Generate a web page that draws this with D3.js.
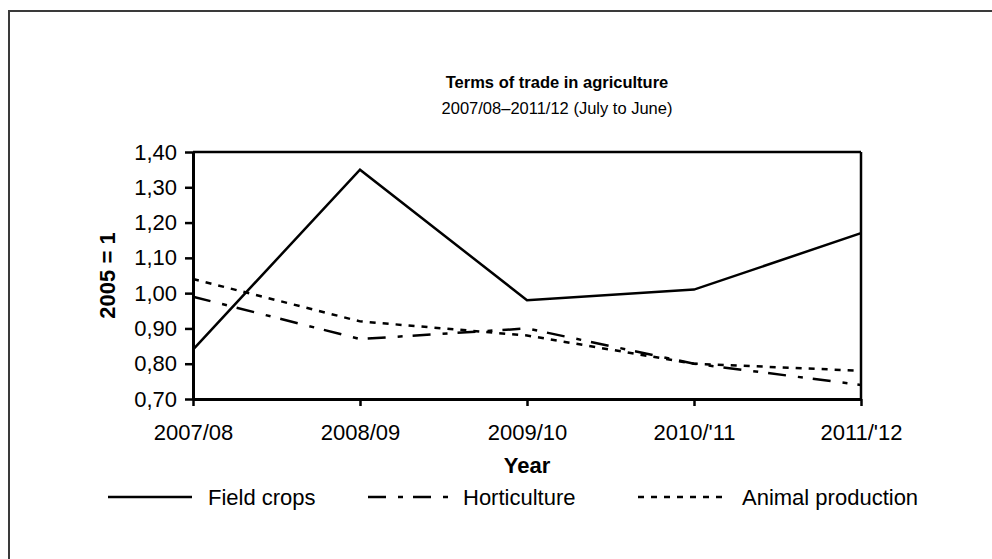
<!DOCTYPE html>
<html>
<head>
<meta charset="utf-8">
<script src="https://cdn.jsdelivr.net/npm/d3@7"></script>
<style>
  html, body { margin: 0; padding: 0; background: #fff; }
  svg { display: block; font-family: Arial, "Liberation Sans", sans-serif; }
</style>
</head>
<body>
<script>
const categories = ["2007/08", "2008/09", "2009/10", "2010/'11", "2011/'12"];
const fieldCrops = [0.84, 1.35, 0.98, 1.01, 1.17];
const horticulture = [0.99, 0.87, 0.90, 0.80, 0.74];
const animalProduction = [1.04, 0.92, 0.88, 0.80, 0.78];
const yTicks = [0.70, 0.80, 0.90, 1.00, 1.10, 1.20, 1.30, 1.40];
const seriesNames = ["Field crops", "Horticulture", "Animal production"];
const titleText = "Terms of trade in agriculture";
const subtitleText = "2007/08\u20132011/12 (July to June)";
const xTitle = "Year";
const yTitle = "2005 = 1";

(function () {
const W = 992, H = 559;
const pLeft = 193, pRight = 861, pTop = 152, pBottom = 399;

const svg = d3.select("body").append("svg").attr("width", W).attr("height", H);

// chart area frame (continues beyond the picture on right/bottom)
svg.append("rect").attr("x", 9).attr("y", 11).attr("width", 1200).attr("height", 800)
  .attr("fill", "none").attr("stroke", "#3a3a3a").attr("stroke-width", 2);

const x = d3.scalePoint().domain(categories).range([pLeft, pRight]);
const y = d3.scaleLinear().domain([0.70, 1.40]).range([pBottom, pTop]);

// titles
svg.append("text").attr("x", 557).attr("y", 88).attr("text-anchor", "middle")
  .attr("font-size", 16.5).attr("font-weight", "bold").text(titleText);
svg.append("text").attr("x", 557).attr("y", 114).attr("text-anchor", "middle")
  .attr("font-size", 16.5).text(subtitleText);

// plot border top/right
svg.append("line").attr("x1", pLeft).attr("x2", pRight).attr("y1", pTop).attr("y2", pTop)
  .attr("stroke", "#000").attr("stroke-width", 2.5);
svg.append("line").attr("x1", pRight).attr("x2", pRight).attr("y1", pTop).attr("y2", pBottom)
  .attr("stroke", "#000").attr("stroke-width", 2.5);

// axes
const yAxis = d3.axisLeft(y).tickValues(yTicks).tickSize(8).tickSizeOuter(0).tickPadding(8)
  .tickFormat(d => d.toFixed(2).replace(".", ","));
const gy = svg.append("g").attr("transform", `translate(${pLeft},0)`).call(yAxis);
gy.selectAll("text").attr("font-size", 22).attr("fill", "#000").attr("font-family", "Arial, 'Liberation Sans', sans-serif");
gy.selectAll("line").attr("stroke", "#000").attr("stroke-width", 2.5);
gy.select(".domain").attr("stroke", "#000").attr("stroke-width", 3);

const xAxis = d3.axisBottom(x).tickSize(7).tickSizeOuter(0).tickPadding(18);
const gx = svg.append("g").attr("transform", `translate(0,${pBottom})`).call(xAxis);
gx.selectAll("text").attr("font-size", 22).attr("fill", "#000").attr("font-family", "Arial, 'Liberation Sans', sans-serif");
gx.selectAll("line").attr("stroke", "#000").attr("stroke-width", 2.5);
gx.select(".domain").attr("stroke", "#000").attr("stroke-width", 3);

// axis titles
svg.append("text").attr("x", (pLeft + pRight) / 2).attr("y", 473).attr("text-anchor", "middle")
  .attr("font-size", 22).attr("font-weight", "bold").text(xTitle);
svg.append("text").attr("transform", `translate(115,${(pTop + pBottom) / 2}) rotate(-90)`)
  .attr("text-anchor", "middle").attr("font-size", 22).attr("font-weight", "bold").text(yTitle);

// lines
const styles = [
  { data: fieldCrops, dash: null },
  { data: horticulture, dash: "18,12,5,10" },
  { data: animalProduction, dash: "6,7" }
];
const line = d3.line().x((d, i) => x(categories[i])).y(d => y(d));
styles.forEach(s => {
  svg.append("path").datum(s.data).attr("d", line).attr("fill", "none")
    .attr("stroke", "#000").attr("stroke-width", 2.5)
    .attr("stroke-dasharray", s.dash);
});

// legend
const legendY = 497;
const legendItems = [
  { x1: 108, x2: 192, tx: 208 },
  { x1: 368, x2: 450, tx: 463 },
  { x1: 638, x2: 723, tx: 742 }
];
legendItems.forEach((it, i) => {
  svg.append("line").attr("x1", it.x1).attr("x2", it.x2).attr("y1", legendY).attr("y2", legendY)
    .attr("stroke", "#000").attr("stroke-width", 2.5).attr("stroke-dasharray", styles[i].dash);
  svg.append("text").attr("x", it.tx).attr("y", legendY + 8).attr("font-size", 22).text(seriesNames[i]);
});
})();
</script>
</body>
</html>
